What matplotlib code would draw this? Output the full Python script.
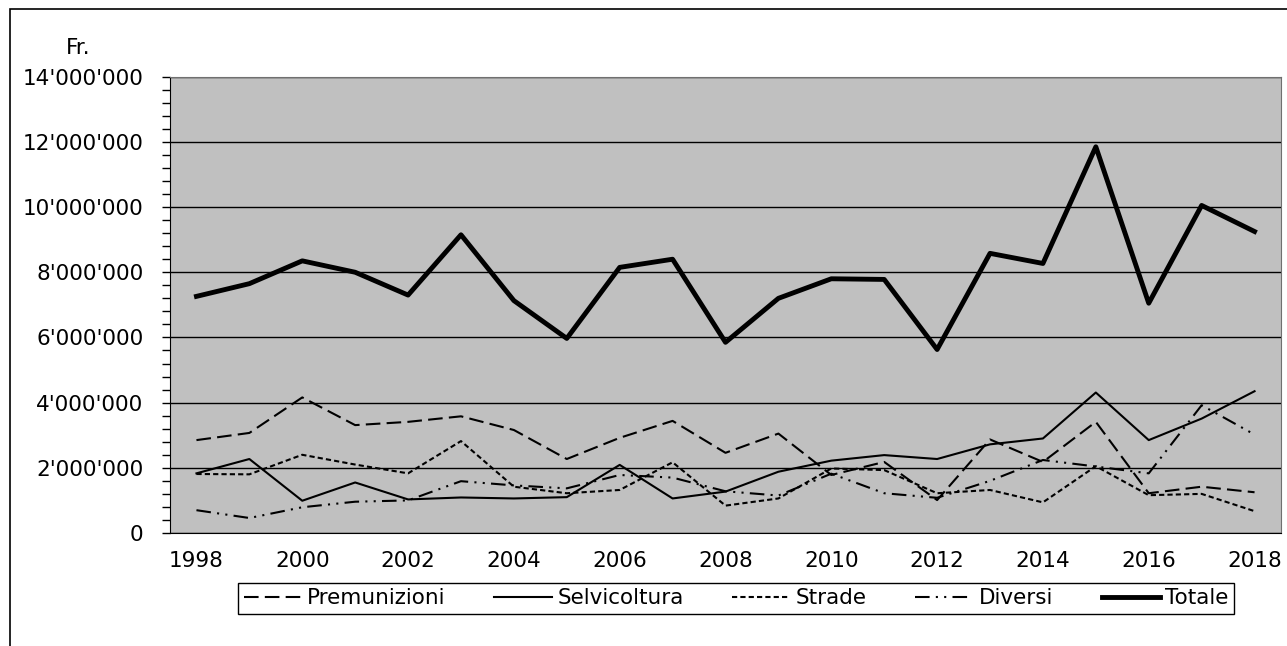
import matplotlib
matplotlib.use('Agg')
import matplotlib.pyplot as plt
from matplotlib.ticker import MultipleLocator, FuncFormatter
from matplotlib.patches import Rectangle

# values (Fr.)
years = list(range(1998, 2019))
premunizioni = [2850000, 3070000, 4160000, 3310000, 3410000, 3580000, 3160000, 2270000, 2920000, 3440000,
                2460000, 3050000, 1780000, 2180000, 1010000, 2870000, 2180000, 3410000, 1220000, 1420000, 1250000]
selvicoltura = [1830000, 2270000, 990000, 1550000, 1030000, 1090000, 1060000, 1100000, 2090000, 1060000,
                1270000, 1880000, 2220000, 2390000, 2270000, 2720000, 2900000, 4310000, 2850000, 3510000, 4350000]
strade = [1810000, 1800000, 2400000, 2100000, 1830000, 2820000, 1420000, 1220000, 1320000, 2170000,
          840000, 1060000, 1980000, 1930000, 1220000, 1320000, 940000, 2050000, 1160000, 1200000, 670000]
diversi = [700000, 460000, 790000, 960000, 1000000, 1590000, 1460000, 1370000, 1780000, 1700000,
           1280000, 1150000, 1820000, 1220000, 1080000, 1600000, 2240000, 2040000, 1830000, 3920000, 3020000]
totale = [7260000, 7650000, 8350000, 8000000, 7300000, 9150000, 7130000, 5970000, 8150000, 8400000,
          5850000, 7200000, 7800000, 7780000, 5630000, 8580000, 8270000, 11850000, 7050000, 10050000, 9250000]

plt.rcParams['font.family'] = ['DejaVu Sans']
fs = 15.5

fig = plt.figure(figsize=(12.87, 6.46), dpi=100)
ax = fig.add_axes([170 / 1287, 1 - 533 / 646, (1281 - 170) / 1287, (533 - 76.7) / 646])
ax.set_facecolor('#c0c0c0')

ax.plot(years, premunizioni, color='k', lw=1.5, dashes=(7, 3), label='Premunizioni')
ax.plot(years, selvicoltura, color='k', lw=1.5, label='Selvicoltura')
ax.plot(years, strade, color='k', lw=1.5, dashes=(2.5, 1.5), label='Strade')
ax.plot(years, diversi, color='k', lw=1.5, dashes=(7, 3, 1, 3, 1, 3), label='Diversi')
ax.plot(years, totale, color='k', lw=3.5, label='Totale')

ax.set_xlim(1997.5, 2018.5)
ax.set_ylim(0, 14000000)
ax.set_xticks(years[::2])
ax.yaxis.set_major_locator(MultipleLocator(2000000))
ax.yaxis.set_minor_locator(MultipleLocator(400000))
ax.yaxis.set_major_formatter(FuncFormatter(lambda v, p: f'{int(v):,}'.replace(',', "'")))
ax.grid(axis='y', which='major', color='k', lw=1)
ax.set_axisbelow(True)

ax.tick_params(axis='x', length=0, pad=13, labelsize=fs)
ax.tick_params(axis='y', which='major', length=6, width=1, pad=13, labelsize=fs)
ax.tick_params(axis='y', which='minor', length=6, width=1)
ax.spines['left'].set_color('k')
ax.spines['bottom'].set_color('k')
ax.spines['top'].set_color('#707070')
ax.spines['right'].set_color('#707070')

fig.text(78 / 1287, 1 - 48 / 646, 'Fr.', fontsize=fs, ha='center', va='center')

leg = fig.legend(loc='center', bbox_to_anchor=(736 / 1287, 1 - 598.5 / 646), ncol=5,
                 fontsize=fs, frameon=True, fancybox=False, framealpha=1, edgecolor='k',
                 handlelength=2.7, handletextpad=0.25, columnspacing=2.25, borderpad=0.25)
leg.get_frame().set_linewidth(1)

# outer chart border (only left and top edges fall inside the image)
fig.patches.append(Rectangle((10 / 1287, -0.05), 1.1, 1 - 9 / 646 + 0.05, transform=fig.transFigure,
                             fill=False, edgecolor='k', lw=1.2))

plt.savefig('out.png', dpi=100)
